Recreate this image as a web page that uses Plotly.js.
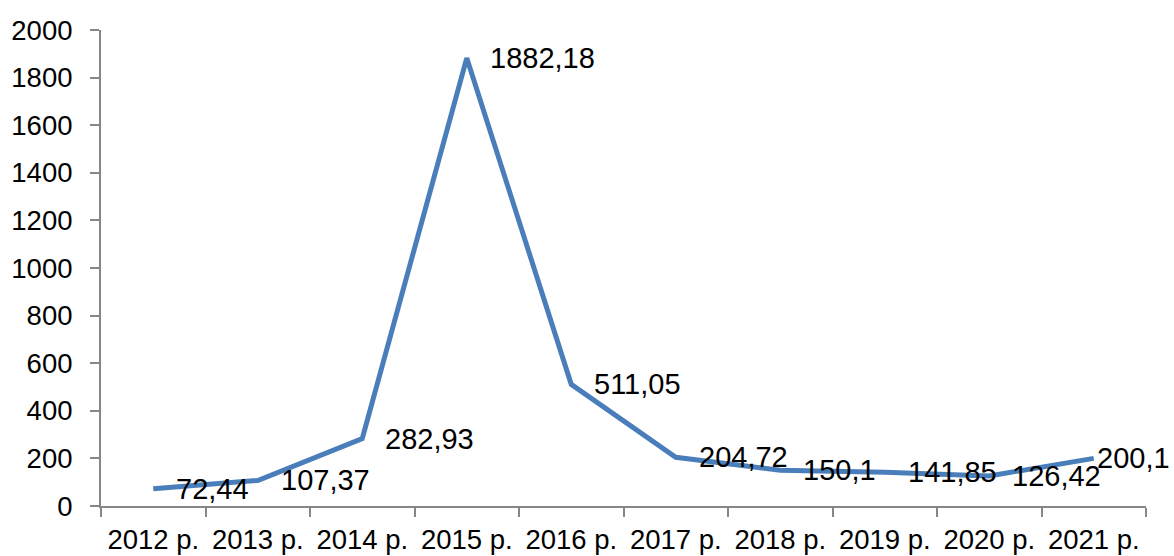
<!DOCTYPE html>
<html>
<head>
<meta charset="utf-8">
<script src="https://cdn.plot.ly/plotly-3.0.1.min.js"></script>
<style>html,body{margin:0;padding:0;background:#fff;}#chart{width:1174px;height:556px;}</style>
</head>
<body>
<div id="chart"></div>
<script>
const years = ["2012 р.", "2013 р.", "2014 р.", "2015 р.", "2016 р.", "2017 р.", "2018 р.", "2019 р.", "2020 р.", "2021 р."];
const values = [72.44, 107.37, 282.93, 1882.18, 511.05, 204.72, 150.1, 141.85, 126.42, 200.1];
const yTicks = [0, 200, 400, 600, 800, 1000, 1200, 1400, 1600, 1800, 2000];

const fontFamily = '"Liberation Sans", Arial, sans-serif';
const trace = {
  x: years,
  y: values,
  type: 'scatter',
  mode: 'lines',
  line: {color: '#4a7ebb', width: 5},
  hoverinfo: 'skip'
};
const annotations = years.map((c, i) => ({
  x: c, y: values[i], xref: 'x', yref: 'y',
  text: String(values[i]).replace('.', ','),
  showarrow: false, xanchor: 'left', yanchor: 'middle',
  xshift: i === years.length - 1 ? 1 : 21,
  font: {family: fontFamily, size: 29, color: '#000'}
}));
const layout = {
  width: 1174, height: 556,
  margin: {l: 101, r: 28, t: 30, b: 50},
  paper_bgcolor: '#fff', plot_bgcolor: '#fff',
  showlegend: false,
  font: {family: fontFamily, size: 28, color: '#000'},
  xaxis: {
    type: 'category', range: [-0.5, 9.5], tickson: 'boundaries',
    showline: true, linecolor: '#868686', linewidth: 2,
    ticks: 'outside', ticklen: 9, tickwidth: 2, tickcolor: '#868686',
    showgrid: false, zeroline: false, fixedrange: true,
    ticklabelstandoff: 8,
    tickfont: {family: fontFamily, size: 27.5, color: '#000'}
  },
  yaxis: {
    range: [0, 2000], tickmode: 'array', tickvals: yTicks, ticktext: yTicks.map(String),
    showline: true, linecolor: '#868686', linewidth: 2,
    ticks: 'outside', ticklen: 9, tickwidth: 2, tickcolor: '#868686',
    showgrid: false, zeroline: false, fixedrange: true,
    ticklabelstandoff: 12,
    tickfont: {family: fontFamily, size: 27.5, color: '#000'}
  },
  annotations: annotations
};
Plotly.newPlot('chart', [trace], layout, {staticPlot: true, displayModeBar: false});
</script>
</body>
</html>
